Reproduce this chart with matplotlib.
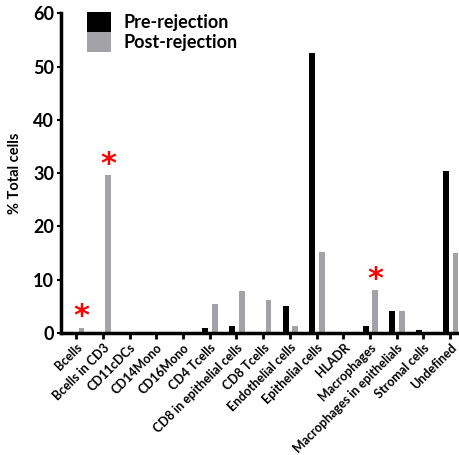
import numpy as np
import matplotlib
matplotlib.use("Agg")
from matplotlib import pyplot as plt

plt.rcParams['font.family'] = ['Lato', 'DejaVu Sans']
plt.rcParams['font.weight'] = 'bold'

# data
categories = ['Bcells', 'Bcells in CD3', 'CD11cDCs', 'CD14Mono', 'CD16Mono', 'CD4 Tcells',
              'CD8 in epithelial cells', 'CD8 Tcells', 'Endothelial cells', 'Epithelial cells',
              'HLADR', 'Macrophages', 'Macrophages in epithelials', 'Stromal cells', 'Undefined']
pre_rejection = [0, 0, 0, 0, 0, 1.0, 1.4, 0.2, 5.0, 52.5, 0, 1.4, 4.1, 0.5, 30.4]
post_rejection = [1.0, 29.6, 0, 0, 0, 5.4, 7.9, 6.2, 1.3, 15.2, 0, 8.0, 4.2, 0.2, 15.0]
# significance stars on the post-rejection bars
star_idx = [0, 1, 11]

x = np.arange(len(categories))
w = 0.22

fig = plt.figure(figsize=(4.6, 4.55), dpi=100)
ax = fig.add_axes([0.133, 0.268, 0.867, 0.703])

ax.bar(x - 0.16, pre_rejection, width=w, color='black', label='Pre-rejection')
ax.bar(x + 0.2, post_rejection, width=w, color='#A3A3A7', label='Post-rejection')

for i in star_idx:
    ax.text(x[i] + 0.2, post_rejection[i] + 2.6, '*', color='red', fontsize=22,
            ha='center', va='center_baseline', family='DejaVu Sans')

ax.set_ylim(0, 60)
ax.set_xlim(-0.56, 14.37)
ax.set_yticks([0, 10, 20, 30, 40, 50, 60])
ax.set_xticks(x)
ax.set_xticklabels(categories, rotation=45, ha='right', rotation_mode='anchor', fontsize=9)
ax.tick_params(axis='y', labelsize=13, width=1.5, length=3, pad=2)
ax.tick_params(axis='x', width=2, length=4, pad=2)
ax.set_ylabel('% Total cells', fontsize=10.5, fontweight='bold', labelpad=8)

ax.spines['top'].set_visible(False)
ax.spines['right'].set_visible(False)
ax.spines['left'].set_linewidth(2.5)
ax.spines['bottom'].set_linewidth(2.5)

ax.legend(loc='upper left', bbox_to_anchor=(0.025, 1.055), frameon=False, fontsize=13,
          handlelength=1.3, handleheight=1.3, handletextpad=0.7, labelspacing=0.05)

plt.savefig('out.png')
plt.close()
